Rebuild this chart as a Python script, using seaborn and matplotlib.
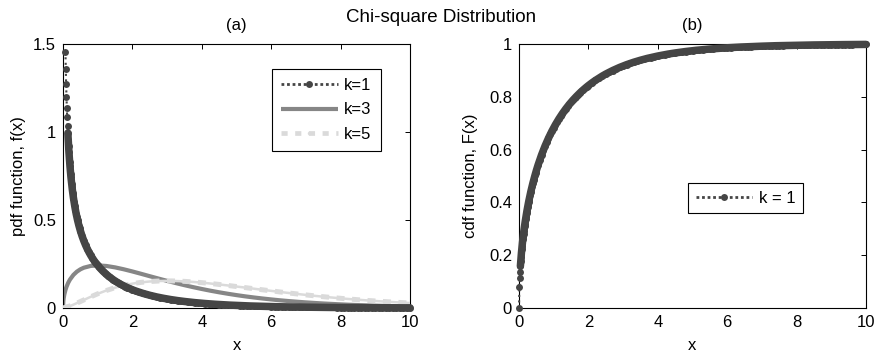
import matplotlib
matplotlib.use("Agg")
import matplotlib.pyplot as plt
from matplotlib.lines import Line2D
import seaborn as sns

# ---------------------------------------------------------------- data
# chi-square pdf, k = 1
x_pdf1 = [0.07, 0.08, 0.09, 0.10, 0.11, 0.12, 0.13, 0.14, 0.15, 0.16,
          0.17, 0.18, 0.19, 0.20, 0.21, 0.22, 0.23, 0.24, 0.25, 0.26,
          0.27, 0.28, 0.29, 0.30, 0.32, 0.34, 0.36, 0.38, 0.40, 0.42,
          0.44, 0.46, 0.48, 0.50, 0.55, 0.60, 0.65, 0.70, 0.75, 0.80,
          0.85, 0.90, 0.95, 1.00, 1.05, 1.10, 1.15, 1.20, 1.25, 1.30,
          1.35, 1.40, 1.45, 1.50, 1.55, 1.60, 1.65, 1.70, 1.75, 1.80,
          1.85, 1.90, 1.95, 2.00,
          2.1, 2.2, 2.3, 2.4, 2.5, 2.6, 2.7, 2.8, 2.9, 3.0,
          3.1, 3.2, 3.3, 3.4, 3.5, 3.6, 3.7, 3.8, 3.9, 4.0,
          4.1, 4.2, 4.3, 4.4, 4.5, 4.6, 4.7, 4.8, 4.9, 5.0,
          5.1, 5.2, 5.3, 5.4, 5.5, 5.6, 5.7, 5.8, 5.9, 6.0,
          6.1, 6.2, 6.3, 6.4, 6.5, 6.6, 6.7, 6.8, 6.9, 7.0,
          7.1, 7.2, 7.3, 7.4, 7.5, 7.6, 7.7, 7.8, 7.9, 8.0,
          8.1, 8.2, 8.3, 8.4, 8.5, 8.6, 8.7, 8.8, 8.9, 9.0,
          9.1, 9.2, 9.3, 9.4, 9.5, 9.6, 9.7, 9.8, 9.9, 10.0]
pdf_k1 = [1.4560, 1.3552, 1.2713, 1.2000, 1.1385, 1.0846, 1.0368, 0.9941, 0.9556, 0.9207,
          0.8887, 0.8594, 0.8323, 0.8072, 0.7838, 0.7620, 0.7415, 0.7223, 0.7041, 0.6870,
          0.6708, 0.6554, 0.6408, 0.6269, 0.6010, 0.5772, 0.5554, 0.5352, 0.5164, 0.4990,
          0.4827, 0.4674, 0.4530, 0.4394, 0.4086, 0.3815, 0.3575, 0.3360, 0.3166, 0.2990,
          0.2829, 0.2681, 0.2545, 0.2420, 0.2303, 0.2195, 0.2093, 0.1999, 0.1910, 0.1827,
          0.1748, 0.1674, 0.1605, 0.1539, 0.1476, 0.1417, 0.1361, 0.1308, 0.1257, 0.1209,
          0.1163, 0.1119, 0.1078, 0.1038,
          0.0963, 0.0895, 0.0833, 0.0776, 0.0723, 0.0674, 0.0629, 0.0588, 0.0550, 0.0514,
          0.0481, 0.0450, 0.0422, 0.0395, 0.0371, 0.0348, 0.0326, 0.0306, 0.0287, 0.0270,
          0.0254, 0.0238, 0.0224, 0.0211, 0.0198, 0.0187, 0.0176, 0.0165, 0.0156, 0.0146,
          0.0138, 0.0130, 0.0122, 0.0115, 0.0109, 0.0103, 0.0097, 0.0091, 0.0086, 0.0081,
          0.0077, 0.0072, 0.0068, 0.0064, 0.0061, 0.0057, 0.0054, 0.0051, 0.0048, 0.0046,
          0.0043, 0.0041, 0.0038, 0.0036, 0.0034, 0.0032, 0.0031, 0.0029, 0.0027, 0.0026,
          0.0024, 0.0023, 0.0022, 0.0021, 0.0020, 0.0019, 0.0018, 0.0017, 0.0016, 0.0015,
          0.0014, 0.0013, 0.0013, 0.0012, 0.0011, 0.0011, 0.0010, 0.0010, 0.0009, 0.0009]

# chi-square pdf, k = 3
x_pdf3 = [0.0, 0.01, 0.02, 0.04, 0.07, 0.10, 0.15, 0.20, 0.30, 0.40,
          0.50, 0.60, 0.80, 1.00, 1.25, 1.50, 1.75, 2.00, 2.25, 2.50,
          2.75, 3.00, 3.25, 3.50, 3.75, 4.00, 4.25, 4.50, 4.75, 5.00,
          5.25, 5.50, 5.75, 6.00, 6.25, 6.50, 6.75, 7.00, 7.25, 7.50,
          7.75, 8.00, 8.25, 8.50, 8.75, 9.00, 9.25, 9.50, 9.75, 10.00]
pdf_k3 = [0.0, 0.0397, 0.0559, 0.0782, 0.1019, 0.1200, 0.1433, 0.1614, 0.1881, 0.2066,
          0.2197, 0.2289, 0.2392, 0.2420, 0.2388, 0.2308, 0.2200, 0.2076, 0.1943, 0.1807,
          0.1673, 0.1542, 0.1416, 0.1297, 0.1185, 0.1080, 0.0982, 0.0892, 0.0809, 0.0732,
          0.0662, 0.0598, 0.0540, 0.0487, 0.0438, 0.0394, 0.0355, 0.0319, 0.0286, 0.0257,
          0.0231, 0.0207, 0.0185, 0.0166, 0.0149, 0.0133, 0.0119, 0.0106, 0.0095, 0.0085]

# chi-square pdf, k = 5
x_pdf5 = [0.0, 0.25, 0.50, 0.75, 1.00, 1.25, 1.50, 1.75, 2.00, 2.25,
          2.50, 2.75, 3.00, 3.25, 3.50, 3.75, 4.00, 4.25, 4.50, 4.75,
          5.00, 5.25, 5.50, 5.75, 6.00, 6.25, 6.50, 6.75, 7.00, 7.25,
          7.50, 7.75, 8.00, 8.25, 8.50, 8.75, 9.00, 9.25, 9.50, 9.75, 10.00]
pdf_k5 = [0.0, 0.0147, 0.0366, 0.0594, 0.0807, 0.0995, 0.1154, 0.1283, 0.1384, 0.1457,
          0.1506, 0.1533, 0.1542, 0.1534, 0.1513, 0.1481, 0.1440, 0.1392, 0.1338, 0.1281,
          0.1220, 0.1159, 0.1097, 0.1034, 0.0973, 0.0913, 0.0854, 0.0798, 0.0744, 0.0692,
          0.0642, 0.0595, 0.0551, 0.0509, 0.0470, 0.0433, 0.0399, 0.0367, 0.0337, 0.0309, 0.0283]

# chi-square cdf, k = 1
x_cdf1 = [0.0, 0.01, 0.02, 0.03, 0.04, 0.05, 0.06, 0.07, 0.08, 0.09,
          0.10, 0.11, 0.12, 0.13, 0.14, 0.15, 0.16, 0.17, 0.18, 0.19,
          0.20, 0.21, 0.22, 0.23, 0.24, 0.25, 0.26, 0.27, 0.28, 0.29,
          0.30, 0.32, 0.34, 0.36, 0.38, 0.40, 0.42, 0.44, 0.46, 0.48,
          0.50, 0.55, 0.60, 0.65, 0.70, 0.75, 0.80,
          0.85, 0.90, 0.95, 1.00, 1.05, 1.10, 1.15, 1.20, 1.25, 1.30,
          1.35, 1.40, 1.45, 1.50, 1.55, 1.60, 1.65, 1.70, 1.75, 1.80,
          1.85, 1.90, 1.95, 2.00,
          2.1, 2.2, 2.3, 2.4, 2.5, 2.6, 2.7, 2.8, 2.9, 3.0,
          3.1, 3.2, 3.3, 3.4, 3.5, 3.6, 3.7, 3.8, 3.9, 4.0,
          4.1, 4.2, 4.3, 4.4, 4.5, 4.6, 4.7, 4.8, 4.9, 5.0,
          5.1, 5.2, 5.3, 5.4, 5.5, 5.6, 5.7, 5.8, 5.9, 6.0,
          6.1, 6.2, 6.3, 6.4, 6.5, 6.6, 6.7, 6.8, 6.9, 7.0,
          7.1, 7.2, 7.3, 7.4, 7.5, 7.6, 7.7, 7.8, 7.9, 8.0,
          8.1, 8.2, 8.3, 8.4, 8.5, 8.6, 8.7, 8.8, 8.9, 9.0,
          9.1, 9.2, 9.3, 9.4, 9.5, 9.6, 9.7, 9.8, 9.9, 10.0]
cdf_k1 = [0.0, 0.0797, 0.1125, 0.1375, 0.1585, 0.1769, 0.1935, 0.2087, 0.2227, 0.2358,
          0.2482, 0.2599, 0.2710, 0.2816, 0.2917, 0.3015, 0.3108, 0.3199, 0.3286, 0.3371,
          0.3453, 0.3532, 0.3610, 0.3685, 0.3758, 0.3829, 0.3899, 0.3967, 0.4033, 0.4098,
          0.4161, 0.4284, 0.4402, 0.4515, 0.4624, 0.4729, 0.4831, 0.4929, 0.5022, 0.5116,
          0.5205, 0.5417, 0.5614, 0.5799, 0.5972, 0.6135, 0.6289,
          0.6434, 0.6572, 0.6703, 0.6827, 0.6945, 0.7057, 0.7164, 0.7267, 0.7364, 0.7458,
          0.7547, 0.7633, 0.7715, 0.7793, 0.7869, 0.7941, 0.8010, 0.8077, 0.8141, 0.8203,
          0.8262, 0.8319, 0.8374, 0.8427,
          0.8527, 0.8620, 0.8706, 0.8787, 0.8862, 0.8931, 0.8996, 0.9057, 0.9114, 0.9167,
          0.9217, 0.9264, 0.9307, 0.9348, 0.9386, 0.9422, 0.9456, 0.9487, 0.9517, 0.9545,
          0.9571, 0.9596, 0.9619, 0.9641, 0.9661, 0.9680, 0.9698, 0.9715, 0.9731, 0.9747,
          0.9761, 0.9774, 0.9787, 0.9799, 0.9810, 0.9820, 0.9830, 0.9840, 0.9849, 0.9857,
          0.9865, 0.9872, 0.9879, 0.9886, 0.9892, 0.9898, 0.9904, 0.9909, 0.9914, 0.9918,
          0.9923, 0.9927, 0.9931, 0.9935, 0.9938, 0.9942, 0.9945, 0.9948, 0.9951, 0.9953,
          0.9956, 0.9958, 0.9960, 0.9962, 0.9964, 0.9966, 0.9968, 0.9970, 0.9971, 0.9973,
          0.9974, 0.9976, 0.9977, 0.9978, 0.9979, 0.9981, 0.9982, 0.9983, 0.9983, 0.9984]

pdf_labels = ["k=1", "k=3", "k=5"]
cdf_label = "k = 1"
x_ticks = [0, 2, 4, 6, 8, 10]
x_tick_labels = ["0", "2", "4", "6", "8", "10"]
pdf_ticks = [0, 0.5, 1, 1.5]
pdf_tick_labels = ["0", "0.5", "1", "1.5"]
cdf_ticks = [0, 0.2, 0.4, 0.6, 0.8, 1]
cdf_tick_labels = ["0", "0.2", "0.4", "0.6", "0.8", "1"]

# ---------------------------------------------------------------- style
sns.set_theme(style="white")
plt.rcParams["font.family"] = ["Liberation Sans", "DejaVu Sans"]
plt.rcParams.update({
    "axes.edgecolor": "black",
    "axes.linewidth": 0.8,
    "text.color": "black",
    "axes.labelcolor": "black",
    "xtick.color": "black",
    "ytick.color": "black",
})

DARK = "#454545"
MID = "#868686"
LIGHT = "#dadada"
FS = 12
MS = 5.0      # marker diameter (pt) of the dense k=1 series
BAND = 5.4    # width (pt) of the band the crowded markers form


def dense_series(ax, x, y, first_merged):
    """Dotted line with round markers; where the markers crowd into a band,
    a solid stroke slightly wider than them gives the band smooth edges."""
    sns.lineplot(x=x[first_merged:], y=y[first_merged:], ax=ax, color=DARK,
                 linewidth=BAND, solid_capstyle="round", clip_on=False, zorder=4)
    sns.lineplot(x=x, y=y, ax=ax, color=DARK, linewidth=1.5, linestyle=":",
                 marker="o", markersize=MS, markeredgewidth=0,
                 clip_on=False, zorder=4)


fig = plt.figure(figsize=(8.8, 3.56), dpi=100)
ax_a = fig.add_axes([63 / 880, 48 / 356, 347 / 880, 264 / 356])
ax_b = fig.add_axes([519 / 880, 48 / 356, 347 / 880, 264 / 356])

# ---------------------------------------------------------------- (a) pdf
# k=3: solid mid-grey line
sns.lineplot(x=x_pdf3, y=pdf_k3, ax=ax_a, color=MID, linewidth=3.0,
             solid_capstyle="butt", zorder=2)
# k=5: light-grey dashed line over a thin continuous core
sns.lineplot(x=x_pdf5, y=pdf_k5, ax=ax_a, color=LIGHT, linewidth=1.8, zorder=3)
sns.lineplot(x=x_pdf5, y=pdf_k5, ax=ax_a, color=LIGHT, linewidth=3.6,
             linestyle=(0, (1.6, 1.5)), dash_capstyle="butt", zorder=3)
# k=1
dense_series(ax_a, x_pdf1, pdf_k1, first_merged=7)

ax_a.set_xlim(0, 10)
ax_a.set_ylim(0, 1.5)
ax_a.set_xticks(x_ticks, x_tick_labels)
ax_a.set_yticks(pdf_ticks, pdf_tick_labels)
ax_a.set_xlabel("x", fontsize=FS)
ax_a.set_ylabel("pdf function, f(x)", fontsize=FS)
ax_a.set_title("(a)", fontsize=FS, pad=10)

handles_a = [
    Line2D([], [], color=DARK, linewidth=2.0, linestyle=(0, (1, 1)),
           marker="o", markersize=MS, markeredgewidth=0),
    Line2D([], [], color=MID, linewidth=3.0, solid_capstyle="butt"),
    Line2D([], [], color=LIGHT, linewidth=3.4, linestyle=(0, (1.3, 1.6)),
           dash_capstyle="butt", marker="o", markersize=2.5, markeredgewidth=0),
]
leg_a = ax_a.legend(handles_a, pdf_labels, loc="upper right",
                    bbox_to_anchor=(0.916, 0.905), borderaxespad=0,
                    fontsize=FS, handlelength=3.4, handletextpad=0.4,
                    labelspacing=0.55, borderpad=0.55, numpoints=1,
                    fancybox=False, framealpha=1, edgecolor="black")
leg_a.get_frame().set_linewidth(0.8)

# ---------------------------------------------------------------- (b) cdf
dense_series(ax_b, x_cdf1, cdf_k1, first_merged=4)

ax_b.set_xlim(0, 10)
ax_b.set_ylim(0, 1)
ax_b.set_xticks(x_ticks, x_tick_labels)
ax_b.set_yticks(cdf_ticks, cdf_tick_labels)
ax_b.set_xlabel("x", fontsize=FS)
ax_b.set_ylabel("cdf function, F(x)", fontsize=FS)
ax_b.set_title("(b)", fontsize=FS, pad=10)

handles_b = [Line2D([], [], color=DARK, linewidth=2.0, linestyle=(0, (1, 1)),
                    marker="o", markersize=MS, markeredgewidth=0)]
leg_b = ax_b.legend(handles_b, [cdf_label], loc="center",
                    bbox_to_anchor=(0.653, 0.415), borderaxespad=0,
                    fontsize=FS, handlelength=3.4, handletextpad=0.4,
                    borderpad=0.45, numpoints=1,
                    fancybox=False, framealpha=1, edgecolor="black")
leg_b.get_frame().set_linewidth(0.8)

# ---------------------------------------------------------------- shared axes look
for ax in (ax_a, ax_b):
    for side in ("top", "right", "bottom", "left"):
        ax.spines[side].set_visible(True)
        ax.spines[side].set_color("black")
        ax.spines[side].set_linewidth(0.8)
    ax.tick_params(direction="in", top=True, right=True, length=3.5,
                   width=0.7, labelsize=FS, pad=5)
    ax.xaxis.set_label_coords(0.5, -0.112)

ax_a.yaxis.set_label_coords(-0.108, 0.5)
ax_b.yaxis.set_label_coords(-0.118, 0.5)

fig.text(441 / 880, 1 - 18 / 356, "Chi-square Distribution",
         ha="center", va="center", fontsize=13.5)

fig.savefig("out.png", dpi=100, facecolor="white")
